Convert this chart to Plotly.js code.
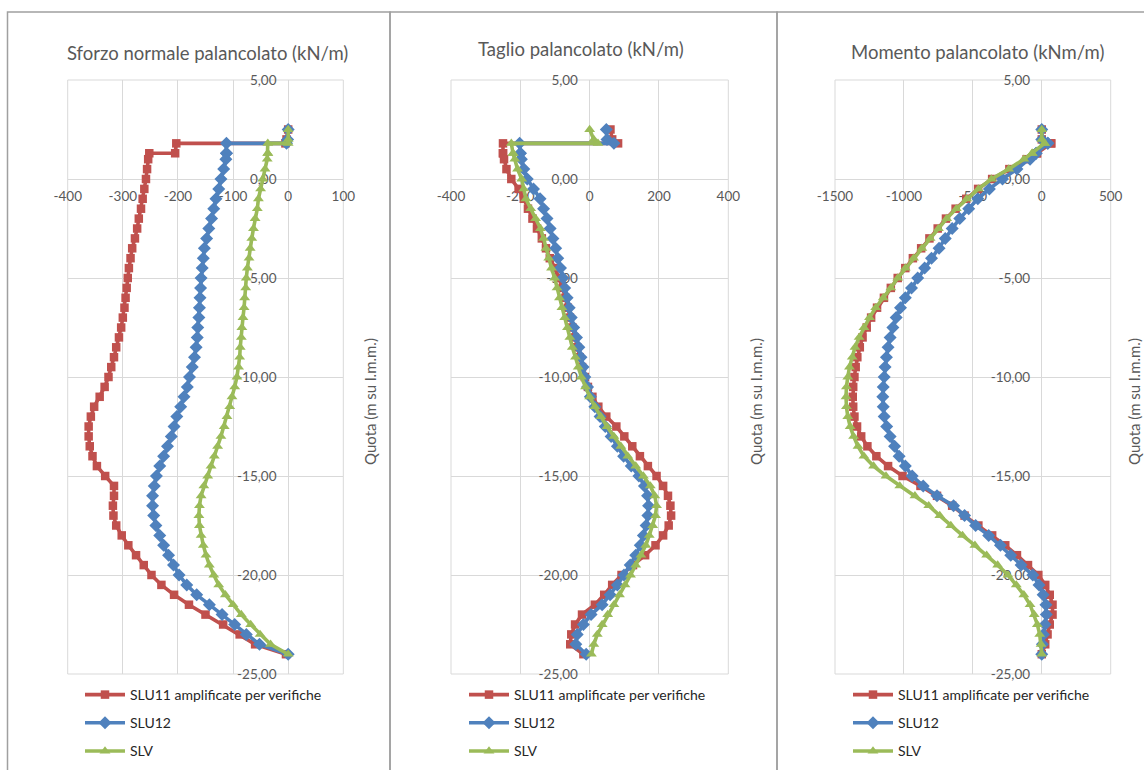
<!DOCTYPE html>
<html>
<head>
<meta charset="utf-8">
<script src="https://cdn.plot.ly/plotly-3.0.1.min.js"></script>
<style>
html,body{margin:0;padding:0;background:#fff;}
#chart{width:1144px;height:770px;}
</style>
</head>
<body>
<div id="chart"></div>
<script>
// ---------------- DATA ----------------
const quota = [2.5, 2.0, 1.8, 1.8, 1.3, 1.3, 1.0, 0.5, 0.0, -0.5, -1.0, -1.5, -2.0, -2.5, -3.0, -3.5, -4.0, -4.5, -5.0, -5.5, -6.0, -6.5, -7.0, -7.5, -8.0, -8.5, -9.0, -9.5, -10.0, -10.5, -11.0, -11.5, -12.0, -12.5, -13.0, -13.5, -14.0, -14.5, -15.0, -15.5, -16.0, -16.5, -17.0, -17.5, -18.0, -18.5, -19.0, -19.5, -20.0, -20.5, -21.0, -21.5, -22.0, -22.5, -23.0, -23.5, -24.0];

const seriesNames = ["SLU11 amplificate per verifiche", "SLU12", "SLV"];

// Sforzo normale (kN/m)
const N_SLU11 = [0, -3, -5, -203, -205, -252, -254, -256, -258, -261, -264, -267, -271, -274, -278, -283, -286, -289, -291, -293, -295, -297, -300, -303, -307, -312, -316, -321, -326, -333, -342, -352, -358, -362, -362, -360, -355, -347, -332, -316, -316, -318, -317, -312, -302, -290, -276, -262, -248, -230, -207, -180, -150, -118, -88, -60, -4];
const N_SLU12 = [0, -1, -3, -112, -112, -112, -113, -117, -122, -126, -131, -135, -139, -144, -148, -152, -154, -156, -158, -159, -160, -161, -162, -164, -165, -167, -170, -174, -179, -183, -189, -195, -202, -207, -212, -219, -226, -233, -239, -243, -246, -246, -244, -240, -233, -226, -217, -208, -198, -184, -166, -143, -120, -97, -76, -52, 0];
const N_SLV = [0, 0, 0, -37, -37, -37, -38, -42, -46, -50, -54, -56, -60, -63, -66, -69, -71, -74, -76, -77, -79, -80, -82, -84, -85, -87, -88, -90, -93, -97, -102, -106, -111, -116, -122, -128, -134, -140, -146, -153, -158, -161, -162, -161, -158, -154, -149, -143, -135, -126, -114, -100, -85, -68, -51, -32, 0];

// Taglio (kN/m)
const T_SLU11 = [60, 65, 82, -250, -250, -250, -247, -240, -226, -205, -190, -178, -165, -152, -138, -126, -115, -100, -88, -78, -70, -63, -57, -50, -43, -36, -29, -22, -14, -5, 8, 25, 48, 77, 100, 123, 145, 168, 193, 212, 226, 233, 235, 228, 212, 190, 160, 125, 92, 65, 42, 15, -22, -42, -53, -56, -18];
const T_SLU12 = [48, 50, 70, -202, -200, -200, -197, -190, -180, -162, -143, -133, -123, -114, -106, -98, -92, -84, -77, -72, -65, -59, -53, -46, -38, -31, -25, -19, -14, -6, 2, 15, 30, 45, 62, 80, 98, 120, 142, 158, 167, 170, 168, 163, 155, 146, 133, 117, 99, 80, 59, 36, 4, -18, -36, -40, -10];
const T_SLV = [0, 12, 24, -226, -221, -221, -216, -208, -196, -190, -184, -170, -156, -142, -133, -126, -118, -110, -101, -94, -87, -80, -72, -64, -57, -50, -41, -33, -24, -12, 0, 15, 32, 50, 70, 90, 110, 133, 155, 175, 188, 193, 190, 182, 172, 162, 148, 133, 118, 102, 86, 70, 52, 36, 22, 12, 5];

// Momento (kNm/m)
const M_SLU11 = [0, 0, 68, 68, -35, -35, -110, -235, -360, -462, -548, -625, -695, -755, -815, -875, -935, -990, -1045, -1095, -1145, -1195, -1238, -1270, -1300, -1320, -1338, -1350, -1359, -1368, -1371, -1368, -1359, -1340, -1310, -1265, -1200, -1115, -1010, -880, -760, -650, -560, -460, -360, -265, -180, -100, -25, 25, 58, 78, 78, 58, 42, 25, 0];
const M_SLU12 = [0, 0, 44, 44, -41, -41, -85, -180, -285, -380, -464, -530, -595, -650, -700, -745, -800, -850, -900, -945, -990, -1025, -1056, -1080, -1100, -1115, -1127, -1137, -1143, -1150, -1153, -1150, -1143, -1125, -1100, -1068, -1035, -990, -940, -860, -760, -640, -560, -480, -385, -300, -225, -150, -65, -20, 10, 30, 33, 24, 12, 5, 0];
const M_SLV = [0, 0, 20, 20, -70, -70, -130, -240, -365, -460, -545, -620, -690, -750, -810, -870, -930, -990, -1045, -1095, -1150, -1205, -1250, -1290, -1325, -1355, -1375, -1395, -1407, -1417, -1420, -1417, -1407, -1390, -1365, -1333, -1290, -1220, -1130, -1030, -920, -820, -740, -660, -575, -485, -400, -320, -245, -185, -130, -85, -55, -32, -15, -5, 0];

// Titles and ticks
const chartTitles = ["Sforzo normale palancolato (kN/m)", "Taglio palancolato (kN/m)", "Momento palancolato (kNm/m)"];
const yAxisTitle = "Quota (m su l.m.m.)";
const yTickVals = [5, 0, -5, -10, -15, -20, -25];
const yTickText = ["5,00", "0,00", "-5,00", "-10,00", "-15,00", "-20,00", "-25,00"];
const xTickVals1 = [-400, -300, -200, -100, 0, 100];
const xTickText1 = ["-400", "-300", "-200", "-100", "0", "100"];
const xTickVals2 = [-400, -200, 0, 200, 400];
const xTickText2 = ["-400", "-200", "0", "200", "400"];
const xTickVals3 = [-1500, -1000, -500, 0, 500];
const xTickText3 = ["-1500", "-1000", "-500", "0", "500"];

// ---------------- LAYOUT ----------------
const W = 1144, H = 770;
const FONT = "Lato, 'Open Sans', sans-serif";
const TXT = "#595959";
const colors = ["#C0504D", "#4F81BD", "#9BBB59"];
const symbols = ["square", "diamond", "triangle-up"];
const msizes = [8.5, 10, 9.5];
const px = v => v / W;
const py = v => 1 - v / H;

const yRange = [-25, 5];
const plotTop = 80, plotBot = 674;
const yDomain = [py(plotBot), py(plotTop)];

const panels = [
  {xr: [-400, 100], xpx: [67.7, 343.3], tv: xTickVals1, tt: xTickText1, data: [N_SLU11, N_SLU12, N_SLV],
   title: [207.5, 53], ytitle: [370, 402], legend: [80, 679], border: [7.5, 390]},
  {xr: [-400, 400], xpx: [451, 728.3], tv: xTickVals2, tt: xTickText2, data: [T_SLU11, T_SLU12, T_SLV],
   title: [580.5, 49], ytitle: [756, 402], legend: [464, 679], border: [390, 777]},
  {xr: [-1500, 500], xpx: [835, 1110.7], tv: xTickVals3, tt: xTickText3, data: [M_SLU11, M_SLU12, M_SLV],
   title: [977.5, 52], ytitle: [1134, 402], legend: [848, 679], border: [777, 1160]}
];

const traces = [];
const layout = {
  width: W, height: H,
  margin: {l: 0, r: 0, t: 0, b: 0},
  paper_bgcolor: "#ffffff", plot_bgcolor: "rgba(0,0,0,0)",
  font: {family: FONT, color: TXT},
  showlegend: true,
  annotations: [], shapes: []
};

const yZeroPaper = yDomain[0] + (0 - yRange[0]) / (yRange[1] - yRange[0]) * (yDomain[1] - yDomain[0]);

panels.forEach((p, i) => {
  const k = i === 0 ? "" : String(i + 1);
  const xa = "x" + k, ya = "y" + k;
  const lg = "legend" + k;
  const xd = [px(p.xpx[0]), px(p.xpx[1])];
  const xZeroPaper = xd[0] + (0 - p.xr[0]) / (p.xr[1] - p.xr[0]) * (xd[1] - xd[0]);

  p.data.forEach((vals, s) => {
    traces.push({
      type: "scatter", mode: "lines+markers",
      x: vals, y: quota, xaxis: xa, yaxis: ya,
      name: seriesNames[s], legend: lg, legendgroup: "g" + i + "_" + s,
      line: {color: colors[s], width: 3.6},
      marker: {symbol: symbols[s], size: msizes[s], color: colors[s]},
      hoverinfo: "skip", cliponaxis: false
    });
  });

  layout["xaxis" + k] = {
    domain: xd, range: p.xr, tickvals: p.tv, ticktext: p.tt,
    showgrid: true, gridcolor: "#d9d9d9", gridwidth: 1,
    zeroline: false, showline: false,
    anchor: "free", position: yZeroPaper,
    ticks: "outside", ticklen: 5, tickcolor: "rgba(0,0,0,0)",
    tickfont: {family: FONT, size: 13.5, color: TXT},
    layer: "below traces", fixedrange: true
  };
  layout["yaxis" + k] = {
    domain: yDomain, range: yRange, tickvals: yTickVals, ticktext: yTickText,
    showgrid: true, gridcolor: "#d9d9d9", gridwidth: 1,
    zeroline: false, showline: false,
    anchor: "free", position: xZeroPaper, side: "left",
    ticks: "outside", ticklen: 9, tickcolor: "rgba(0,0,0,0)",
    tickfont: {family: FONT, size: 13.5, color: TXT},
    layer: "below traces", fixedrange: true
  };
  layout[lg] = {
    x: px(p.legend[0]), y: py(p.legend[1]), xanchor: "left", yanchor: "top",
    bgcolor: "rgba(0,0,0,0)", borderwidth: 0,
    font: {family: FONT, size: 14, color: "#262626"},
    tracegroupgap: 7, itemwidth: 40, traceorder: "grouped"
  };
  layout.annotations.push({
    text: chartTitles[i], xref: "paper", yref: "paper",
    x: px(p.title[0]), y: py(p.title[1]), xanchor: "center", yanchor: "middle",
    showarrow: false, font: {family: FONT, size: 18.5, color: TXT}
  });
  layout.annotations.push({
    text: yAxisTitle, xref: "paper", yref: "paper",
    x: px(p.ytitle[0]), y: py(p.ytitle[1]), xanchor: "center", yanchor: "middle",
    textangle: -90, showarrow: false, font: {family: FONT, size: 15, color: TXT}
  });
  layout.shapes.push({
    type: "rect", xref: "paper", yref: "paper",
    x0: px(p.border[0]), x1: px(p.border[1]), y0: py(800), y1: py(12),
    line: {color: "#a0a0a0", width: 1.5}, fillcolor: "rgba(0,0,0,0)", layer: "below"
  });
  // plot-area outline (edge gridlines at the ends of both ranges)
  layout.shapes.push({
    type: "rect", xref: xa + " domain", yref: ya + " domain",
    x0: 0, x1: 1, y0: 0, y1: 1,
    line: {color: "#d9d9d9", width: 1}, fillcolor: "rgba(0,0,0,0)", layer: "below"
  });
});

Plotly.newPlot("chart", traces, layout, {staticPlot: true, displayModeBar: false});
</script>
</body>
</html>
